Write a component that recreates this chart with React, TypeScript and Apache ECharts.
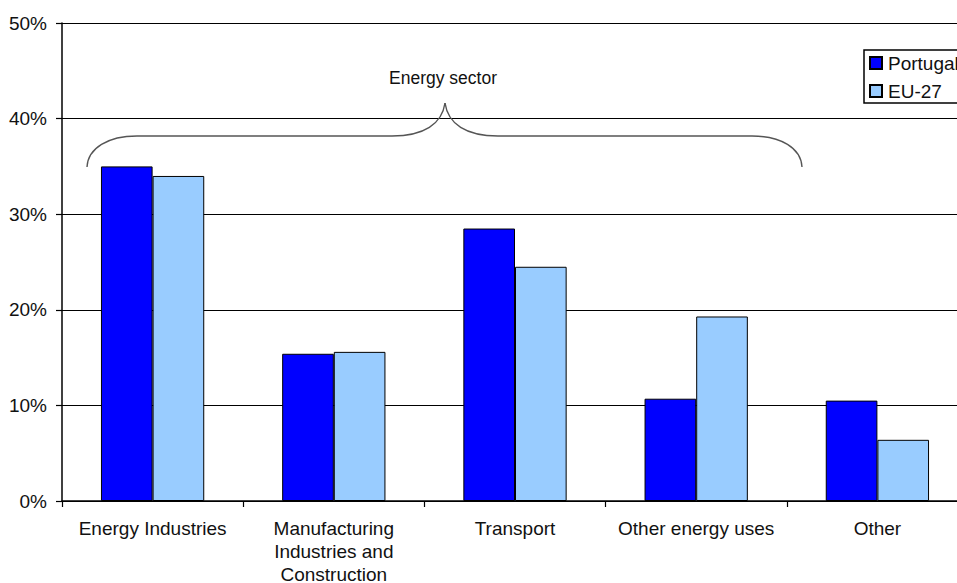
import React, { useEffect, useRef } from "react";
import * as echarts from "echarts";

const categories = [
  "Energy Industries",
  "Manufacturing\nIndustries and\nConstruction",
  "Transport",
  "Other energy uses",
  "Other",
];
const seriesNames = ["Portugal", "EU-27"];
const portugal = [35.0, 15.4, 28.5, 10.7, 10.5];
const eu27 = [34.0, 15.6, 24.5, 19.3, 6.4];
const yTicks = { min: 0, max: 50, interval: 10 };
const annotationText = "Energy sector";

const FONT = "'Liberation Sans', Arial, sans-serif";
const TEXT_COLOR = "#111";

export default function App() {
  const ref = useRef<HTMLDivElement>(null);

  useEffect(() => {
    if (!ref.current) return;
    const chart = echarts.init(ref.current, null, { renderer: "svg" });
    const braceStyle = { stroke: "#555", lineWidth: 1.4, fill: "none" };
    chart.setOption({
      animation: false,
      backgroundColor: "#fff",
      textStyle: { fontFamily: FONT },
      grid: {
        left: 62,
        top: 23,
        right: -11,
        bottom: 82,
        containLabel: false,
        outerBoundsMode: "none",
      },
      legend: {
        orient: "vertical",
        left: 864,
        top: 50,
        padding: [2, 40, 1, 5],
        itemGap: 6,
        itemWidth: 12,
        itemHeight: 12,
        borderColor: "#000",
        borderWidth: 1.5,
        backgroundColor: "#fff",
        icon: "rect",
        data: seriesNames,
        textStyle: {
          fontFamily: FONT,
          fontSize: 19,
          color: TEXT_COLOR,
          lineHeight: 22,
          padding: [0, 0, 0, 1],
        },
      },
      xAxis: {
        type: "category",
        data: categories,
        axisLine: { lineStyle: { color: "#000", width: 1.5 } },
        axisTick: { show: true, alignWithLabel: false, length: 6, lineStyle: { color: "#000", width: 1.2 } },
        axisLabel: {
          interval: 0,
          margin: 16,
          fontFamily: FONT,
          fontSize: 19,
          lineHeight: 23,
          color: TEXT_COLOR,
          align: "center",
        },
      },
      yAxis: {
        type: "value",
        min: yTicks.min,
        max: yTicks.max,
        interval: yTicks.interval,
        axisLine: { show: true, lineStyle: { color: "#000", width: 1.5 } },
        axisTick: { show: true, length: 6, lineStyle: { color: "#000", width: 1.2 } },
        axisLabel: {
          formatter: "{value}%",
          margin: 15,
          fontFamily: FONT,
          fontSize: 19,
          color: TEXT_COLOR,
        },
        splitLine: { show: true, lineStyle: { color: "#000", width: 1.2 } },
      },
      series: [
        {
          name: seriesNames[0],
          type: "bar",
          data: portugal,
          barGap: "0%",
          barCategoryGap: "43%",
          itemStyle: { color: "#0000FF", borderColor: "#000", borderWidth: 1 },
        },
        {
          name: seriesNames[1],
          type: "bar",
          data: eu27,
          barGap: "0%",
          barCategoryGap: "43%",
          itemStyle: { color: "#99CCFF", borderColor: "#000", borderWidth: 1 },
        },
      ],
      graphic: [
        {
          type: "bezierCurve",
          shape: { x1: 87, y1: 167, cpx1: 88, cpy1: 148, cpx2: 108, cpy2: 136, x2: 137, y2: 136 },
          style: braceStyle,
          z: 10,
        },
        {
          type: "line",
          shape: { x1: 137, y1: 136, x2: 392, y2: 136 },
          style: braceStyle,
          z: 10,
        },
        {
          type: "bezierCurve",
          shape: { x1: 392, y1: 136, cpx1: 424, cpy1: 136, cpx2: 442, cpy2: 124, x2: 445, y2: 103 },
          style: braceStyle,
          z: 10,
        },
        {
          type: "bezierCurve",
          shape: { x1: 445, y1: 103, cpx1: 448, cpy1: 124, cpx2: 466, cpy2: 136, x2: 498, y2: 136 },
          style: braceStyle,
          z: 10,
        },
        {
          type: "line",
          shape: { x1: 498, y1: 136, x2: 752, y2: 136 },
          style: braceStyle,
          z: 10,
        },
        {
          type: "bezierCurve",
          shape: { x1: 752, y1: 136, cpx1: 781, cpy1: 136, cpx2: 801, cpy2: 148, x2: 802, y2: 167 },
          style: braceStyle,
          z: 10,
        },
        {
          type: "text",
          x: 443,
          y: 78,
          style: {
            text: annotationText,
            fontFamily: FONT,
            fontSize: 17.5,
            fill: TEXT_COLOR,
            textAlign: "center",
            textVerticalAlign: "middle",
          },
          z: 10,
        },
      ],
    });
    return () => chart.dispose();
  }, []);

  return (
    <div
      ref={ref}
      style={{ position: "fixed", left: 0, top: 0, width: 957, height: 583, background: "#fff" }}
    />
  );
}
